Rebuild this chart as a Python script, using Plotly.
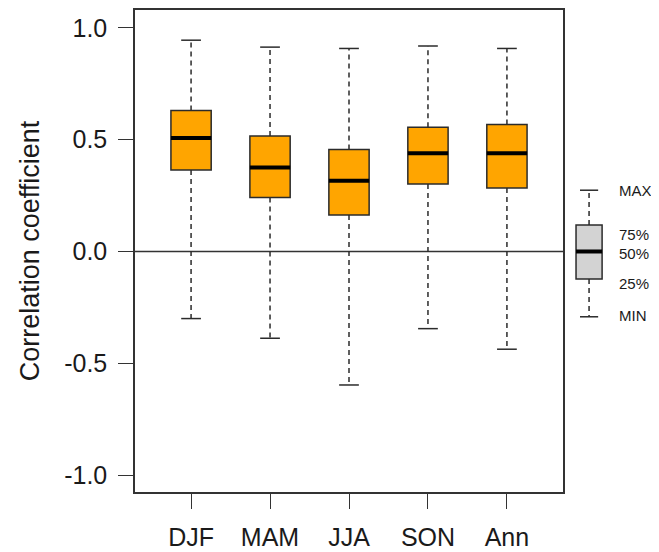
import plotly.graph_objects as go

# ---- data ----
categories = ["DJF", "MAM", "JJA", "SON", "Ann"]
maxima  = [0.945, 0.914, 0.908, 0.919, 0.908]
q3      = [0.630, 0.517, 0.456, 0.556, 0.568]
medians = [0.507, 0.376, 0.316, 0.439, 0.439]
q1      = [0.364, 0.241, 0.163, 0.302, 0.284]
minima  = [-0.300, -0.388, -0.597, -0.345, -0.437]

y_tickvals = [-1.0, -0.5, 0.0, 0.5, 1.0]
y_ticktext = ["-1.0", "-0.5", "0.0", "0.5", "1.0"]

legend_stats = {"max": 0.274, "q3": 0.119, "med": 0.0, "q1": -0.123, "min": -0.292}
legend_labels = ["MAX", "75%", "50%", "25%", "MIN"]
legend_label_y = [0.272, 0.076, -0.007, -0.141, -0.288]

# ---- style ----
FONT = "Liberation Sans, Arial, sans-serif"
ORANGE = "#FFA500"
GRAY = "#D3D3D3"
EDGE = "#2b2b2b"
BOX_HW = 0.255
CAP_HW = 0.125
LEG_BOX_HW = 0.165
LEG_CAP_HW = 0.115
YRANGE = [-1.0756, 1.08]

xs = list(range(1, len(categories) + 1))

fig = go.Figure()

def add_boxplot(fig, xpos, mx, u, md, l, mn, hw, chw, fill, xref, yref, xaxis, yaxis):
    # whiskers (dashed)
    wx, wy = [], []
    for x, a, b, c, d in zip(xpos, mx, u, l, mn):
        wx += [x, x, None, x, x, None]
        wy += [b, a, None, c, d, None]
    fig.add_trace(go.Scatter(x=wx, y=wy, mode="lines", xaxis=xaxis, yaxis=yaxis,
                             line=dict(color=EDGE, width=1.5, dash="5px,4px"),
                             hoverinfo="skip", showlegend=False))
    # caps
    cx, cy = [], []
    for x, a, d in zip(xpos, mx, mn):
        cx += [x - chw, x + chw, None, x - chw, x + chw, None]
        cy += [a, a, None, d, d, None]
    fig.add_trace(go.Scatter(x=cx, y=cy, mode="lines", xaxis=xaxis, yaxis=yaxis,
                             line=dict(color=EDGE, width=1.5),
                             hoverinfo="skip", showlegend=False))
    # boxes
    for x, b, m, c in zip(xpos, u, md, l):
        fig.add_shape(type="rect", xref=xref, yref=yref, x0=x - hw, x1=x + hw, y0=c, y1=b,
                      fillcolor=fill, line=dict(color=EDGE, width=1.5), layer="above")
        fig.add_shape(type="line", xref=xref, yref=yref, x0=x - hw, x1=x + hw, y0=m, y1=m,
                      line=dict(color="black", width=4), layer="above")

add_boxplot(fig, xs, maxima, q3, medians, q1, minima, BOX_HW, CAP_HW, ORANGE,
            "x", "y", "x", "y")

# zero line
fig.add_shape(type="line", xref="x domain", yref="y", x0=0, x1=1, y0=0, y1=0,
              line=dict(color="#333333", width=1.5), layer="below")

# legend mini boxplot in its own subplot
add_boxplot(fig, [1], [legend_stats["max"]], [legend_stats["q3"]], [legend_stats["med"]],
            [legend_stats["q1"]], [legend_stats["min"]], LEG_BOX_HW, LEG_CAP_HW, GRAY,
            "x2", "y2", "x2", "y2")
for lab, ly in zip(legend_labels, legend_label_y):
    fig.add_annotation(x=1.355, y=ly, xref="x2", yref="y2", text=lab, showarrow=False,
                       xanchor="left", yanchor="middle",
                       font=dict(family=FONT, size=15, color="#1a1a1a"))

# page body has an 8px default margin, so the figure is sized/offset accordingly
W, H = 651, 544
L, R, T, B = 127, 10, 2, 60
pw = W - L - R
fig.update_layout(
    width=W, height=H,
    margin=dict(l=L, r=R, t=T, b=B, pad=0),
    paper_bgcolor="white", plot_bgcolor="white",
    showlegend=False,
    font=dict(family=FONT, color="#1a1a1a"),
    xaxis=dict(domain=[0, 428 / pw], range=[0.29, 5.71], tickvals=xs, ticktext=categories,
               automargin=False,
               showgrid=False, zeroline=False, showline=True, mirror=True,
               linecolor="#333333", linewidth=1.5,
               ticks="outside", ticklen=15, tickwidth=1.2, tickcolor="#333333",
               ticklabelstandoff=7,
               tickfont=dict(family=FONT, size=25, color="#1a1a1a")),
    yaxis=dict(range=YRANGE, tickvals=y_tickvals, ticktext=y_ticktext,
               automargin=False,
               showgrid=False, zeroline=False, showline=True, mirror=True,
               linecolor="#333333", linewidth=1.5,
               ticks="outside", ticklen=15, tickwidth=1.2, tickcolor="#333333",
               ticklabelstandoff=6,
               tickfont=dict(family=FONT, size=25, color="#1a1a1a"),
               title=dict(text="Correlation coefficient", standoff=17,
                          font=dict(family=FONT, size=27, color="#1a1a1a"))),
    xaxis2=dict(domain=[437 / pw, 1.0], range=[0.784, 0.784 + (pw - 437) / 79],
                anchor="y2", visible=False, automargin=False),
    yaxis2=dict(domain=[0, 1], range=YRANGE, anchor="x2", visible=False,
                automargin=False),
)

fig.write_html("out.html")
